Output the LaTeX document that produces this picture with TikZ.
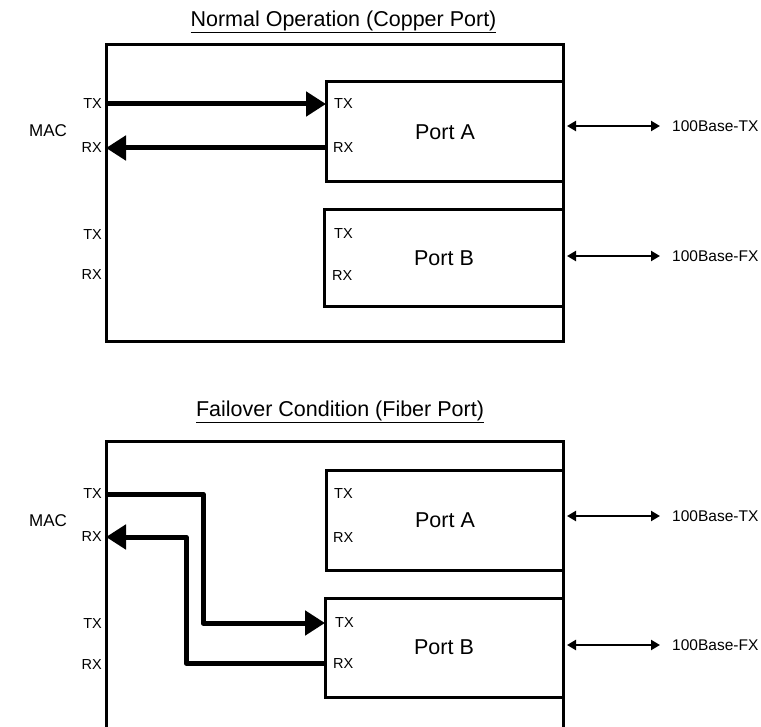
\documentclass[tikz,border=0pt]{standalone}
\usepackage{fontspec}
\setmainfont{Liberation Sans}
\usetikzlibrary{arrows.meta}
\begin{document}
\begin{tikzpicture}[x=1pt,y=-1pt,
  boxline/.style={line width=3pt,line join=miter},
  portbox/.style={draw,line width=3pt,inner sep=0pt,font=\fontsize{21.5}{24}\selectfont},
  ttl/.style={inner sep=0pt,font=\fontsize{21.5}{24}\selectfont},
  pin/.style={inner sep=0pt,font=\fontsize{14.5}{16}\selectfont},
  maclbl/.style={inner sep=0pt,font=\fontsize{17}{19}\selectfont},
  linklbl/.style={inner sep=0pt,anchor=west,font=\fontsize{15.5}{17}\selectfont},
  sig/.style={line width=5pt,line join=round,-{Triangle[length=20pt,width=24pt]}},
  linkarrow/.style={line width=2.3pt,{Triangle[length=9pt,width=10pt]}-{Triangle[length=9pt,width=10pt]},shorten >=12pt}]
\useasboundingbox (0,0) rectangle (761,727);
% ---------- upper diagram ----------
\node[ttl] (t1) at (343.5,22) {\underline{Normal Operation (Copper Port)}};
\draw[boxline] (106,45) rectangle (563,342);
\node[portbox,minimum width=237pt,minimum height=100pt] (pa1) at (445,132) {Port A};
\node[portbox,minimum width=239pt,minimum height=97pt] (pb1) at (444,258.5) {Port B};
\node[maclbl] (mac1) at (48,131) {MAC};
\node[pin,anchor=east] (lt1) at (102,104) {TX};
\node[pin,anchor=east] (lr1) at (102,148) {RX};
\node[pin,anchor=east] (lt1b) at (102,235) {TX};
\node[pin,anchor=east] (lr1b) at (102,275) {RX};
\node[pin,anchor=west] (at1) at (334,104) {TX};
\node[pin,anchor=west] (ar1) at (333,148) {RX};
\node[pin,anchor=west] (bt1) at (334,234) {TX};
\node[pin,anchor=west] (br1) at (332,276) {RX};
\coordinate (mt1) at (106,104);
\coordinate (mr1) at (106,148);
\coordinate (pat1) at (326,104);
\coordinate (par1) at (326,148);
\draw[sig] (mt1) -- (pat1);
\draw[sig] (par1) -- (mr1);
\node[linklbl] (l1a) at (672,126) {100Base-TX};
\node[linklbl] (l1b) at (672,256) {100Base-FX};
\coordinate (e1a) at (567,126);
\coordinate (e1b) at (567,256);
\draw[linkarrow] (e1a) -- (l1a.west);
\draw[linkarrow] (e1b) -- (l1b.west);
% ---------- lower diagram ----------
\node[ttl] (t2) at (340,412) {\underline{Failover Condition (Fiber Port)}};
\draw[boxline] (106,730) -- (106,442) -- (563,442) -- (563,730);
\node[portbox,minimum width=237pt,minimum height=100pt] (pa2) at (445,520) {Port A};
\node[portbox,minimum width=238pt,minimum height=99pt] (pb2) at (444,647.5) {Port B};
\node[maclbl] (mac2) at (48,521) {MAC};
\node[pin,anchor=east] (lt2) at (102,494) {TX};
\node[pin,anchor=east] (lr2) at (102,537) {RX};
\node[pin,anchor=east] (lt2b) at (102,624) {TX};
\node[pin,anchor=east] (lr2b) at (102,665) {RX};
\node[pin,anchor=west] (at2) at (334,494) {TX};
\node[pin,anchor=west] (ar2) at (333,538) {RX};
\node[pin,anchor=west] (bt2) at (335,623) {TX};
\node[pin,anchor=west] (br2) at (333,664) {RX};
\coordinate (mt2) at (106,494);
\coordinate (mr2) at (106,537);
\coordinate (pbt2) at (325,623);
\coordinate (pbr2) at (325,663);
\draw[sig] (mt2) -- ++(97,0) |- (pbt2);
\draw[sig] (pbr2) -- ++(-139,0) |- (mr2);
\node[linklbl] (l2a) at (672,516) {100Base-TX};
\node[linklbl] (l2b) at (672,645) {100Base-FX};
\coordinate (e2a) at (567,516);
\coordinate (e2b) at (567,645);
\draw[linkarrow] (e2a) -- (l2a.west);
\draw[linkarrow] (e2b) -- (l2b.west);
\end{tikzpicture}
\end{document}
